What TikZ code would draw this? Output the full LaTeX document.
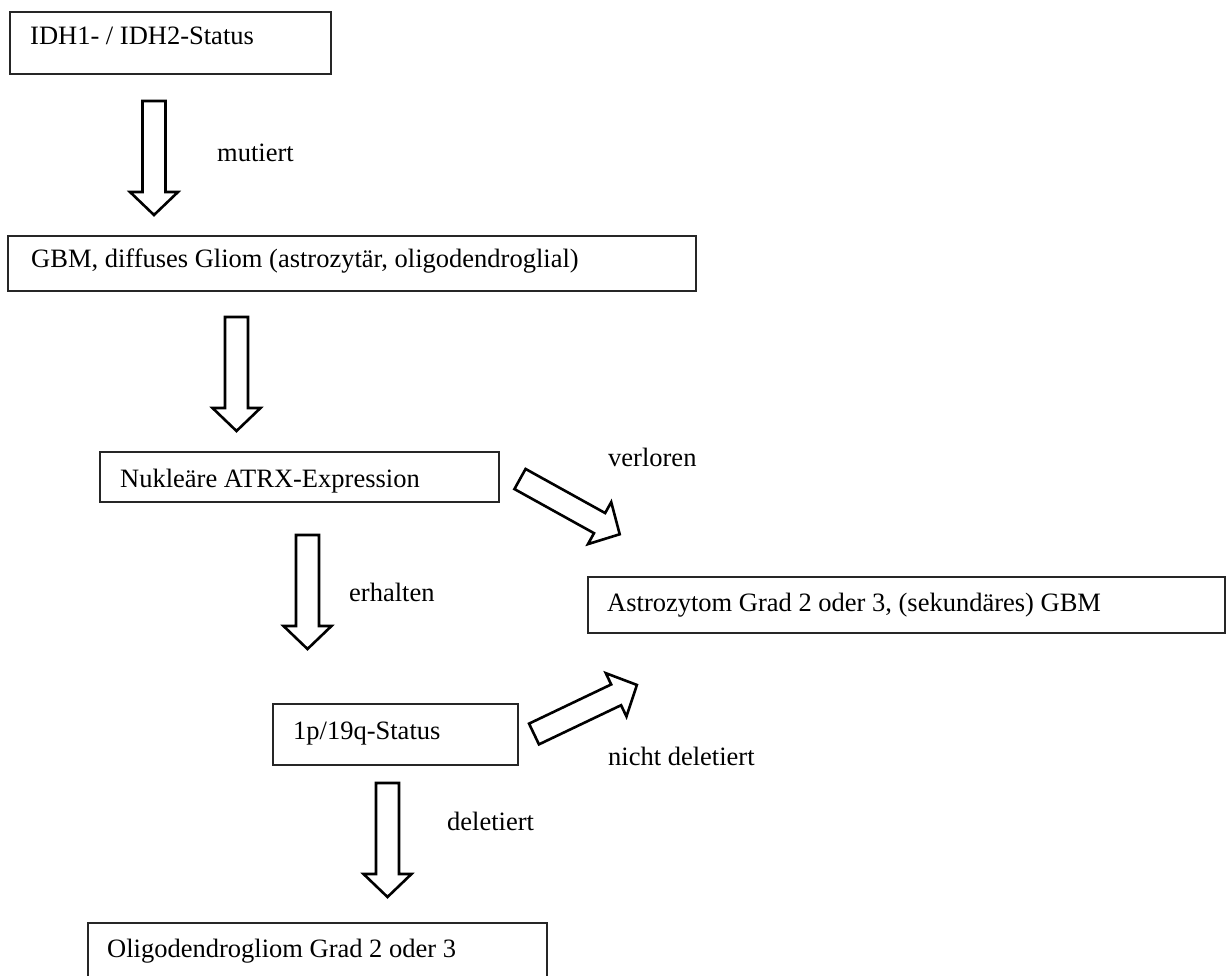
\documentclass[tikz,border=0pt]{standalone}
\usepackage{fontspec}
\setmainfont{Liberation Serif}
\begin{document}
\begin{tikzpicture}[x=1pt,y=-1pt,
  box/.style={draw=black!85, line width=1.6pt, rectangle, anchor=north west, inner sep=0pt},
  txt/.style={anchor=base west, inner sep=0pt, font=\fontsize{26.5}{32}\selectfont},
  blockarrow/.style={draw=black, line width=2.6pt, fill=white, line join=miter}]
\useasboundingbox (0,0) rectangle (1227,976);
\newcommand{\blockarr}[2]{\draw[blockarrow, shift={#1}, rotate=#2] (0,-11.5) -- (91,-11.5) -- (91,-24) -- (114,0) -- (91,24) -- (91,11.5) -- (0,11.5) -- cycle;}
% boxes
\node[box, minimum width=321pt, minimum height=62pt] (idh) at (9,11) {};
\node[txt] (idhT) at (30,45) {IDH1- / IDH2-Status};
\node[box, minimum width=688pt, minimum height=55pt] (gbm) at (7,235) {};
\node[txt] (gbmT) at (31,268) {GBM, diffuses Gliom (astrozytär, oligodendroglial)};
\node[box, minimum width=399pt, minimum height=50pt] (atrx) at (99,451) {};
\node[txt] (atrxT) at (120,487) {Nukleäre ATRX-Expression};
\node[box, minimum width=637pt, minimum height=56pt] (astro) at (587,576) {};
\node[txt] (astroT) at (607,611) {Astrozytom Grad 2 oder 3, (sekundäres) GBM};
\node[box, minimum width=245pt, minimum height=61pt] (p19) at (272,703) {};
\node[txt] (p19T) at (293,739) {1p/19q-Status};
\node[box, minimum width=459pt, minimum height=62pt] (oligo) at (87,922) {};
\node[txt] (oligoT) at (107,957) {Oligodendrogliom Grad 2 oder 3};
% labels
\node[txt] (l1) at (217,162) {mutiert};
\node[txt] (l2) at (608,466) {verloren};
\node[txt] (l3) at (349,601) {erhalten};
\node[txt] (l4) at (608,765) {nicht deletiert};
\node[txt] (l5) at (447,830) {deletiert};
% arrow tails
\coordinate (a1) at (154,101);
\coordinate (a2) at (236.5,317);
\coordinate (a3) at (307.5,535);
\coordinate (a4) at (387.5,783);
\coordinate (d1) at (520,479);
\coordinate (d2) at (534,734);
\blockarr{(a1)}{-90}
\blockarr{(a2)}{-90}
\blockarr{(a3)}{-90}
\blockarr{(a4)}{-90}
\blockarr{(d1)}{-29}
\blockarr{(d2)}{25.5}
\end{tikzpicture}
\end{document}
